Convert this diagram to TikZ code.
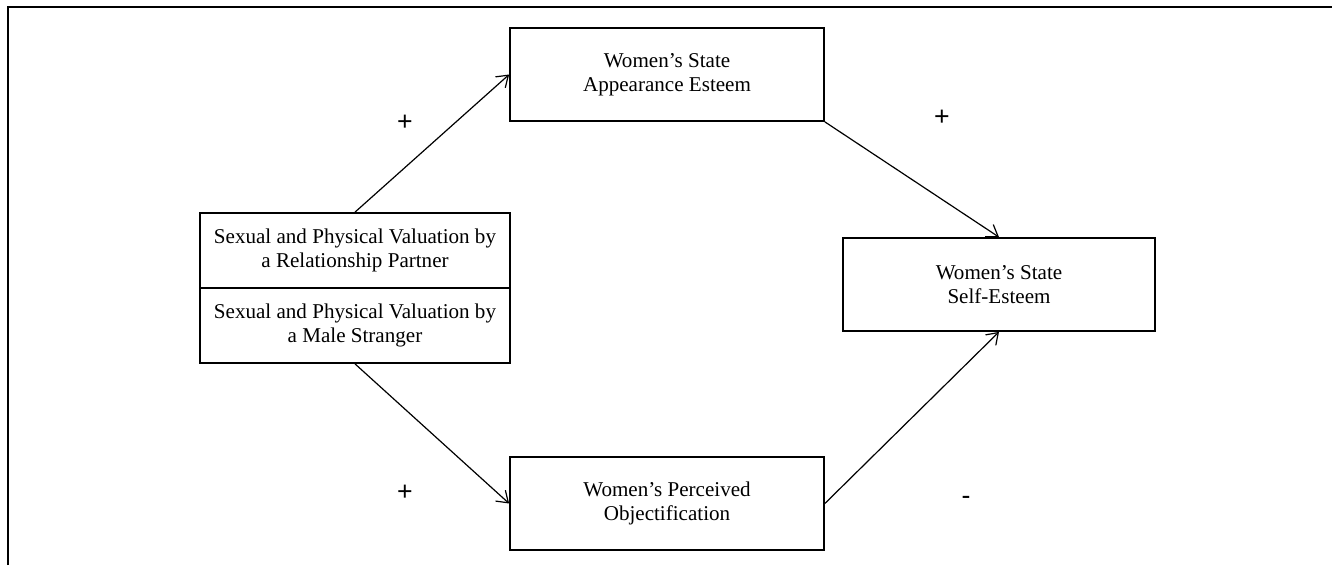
\documentclass[tikz,border=0pt]{standalone}
\usepackage{fontspec}
\setmainfont{Liberation Serif}
\newfontfamily\signfont{Liberation Sans}
\usetikzlibrary{arrows.meta}
\tikzset{
  box/.style={draw, line width=1.3pt, align=center, inner sep=0pt,
    font=\fontsize{15.8}{18}\selectfont},
  conn/.style={line width=0.9pt, -{Straight Barb[length=8pt,width=11pt,line width=0.9pt]}},
  sign/.style={font=\signfont\fontsize{20}{22}\selectfont, inner sep=0pt}
}
\begin{document}
\begin{tikzpicture}[x=0.75pt,y=-0.75pt]
\useasboundingbox (0,0) rectangle (1332,565);
\draw[line width=1.4pt] (8,565) -- (8,7) -- (1332,7);
\node[box, minimum width=232.5pt, minimum height=56.25pt] (L1) at (355,250.5)
  {Sexual and Physical Valuation by\\a Relationship Partner};
\node[box, minimum width=232.5pt, minimum height=56.25pt] (L2) at (355,325.5)
  {Sexual and Physical Valuation by\\a Male Stranger};
\node[box, minimum width=235.5pt, minimum height=69.75pt] (T) at (667,74.5)
  {Women’s State\\Appearance Esteem};
\node[box, minimum width=234pt, minimum height=69.75pt] (R) at (999,284.5)
  {Women’s State\\Self-Esteem};
\node[box, minimum width=235.5pt, minimum height=69.75pt] (B) at (667,503.5)
  {Women’s Perceived\\Objectification};
\draw[conn] (L1.north) -- (T.west);
\draw[conn] (T.south east) -- (R.north);
\draw[conn] (L2.south) -- (B.west);
\draw[conn] (B.east) -- (R.south);
\node[sign] (p1) at (405,123) {+};
\node[sign] (p2) at (942,118) {+};
\node[sign] (p3) at (405,493) {+};
\node[sign] (m1) at (966,500) {-};
\end{tikzpicture}
\end{document}
